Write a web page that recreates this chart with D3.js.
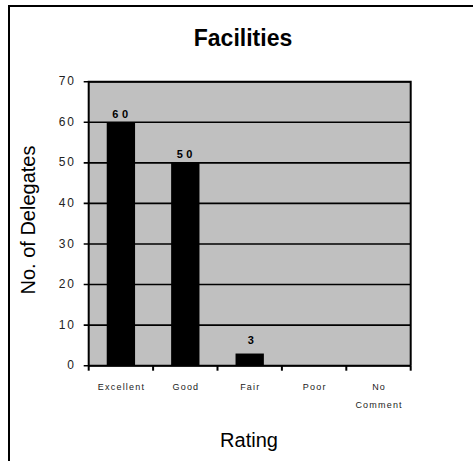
<!DOCTYPE html>
<html>
<head>
<meta charset="utf-8">
<script src="https://cdn.jsdelivr.net/npm/d3@7"></script>
<style>
  body { margin: 0; background: #fff; }
  svg { display: block; font-family: "Liberation Sans", Arial, sans-serif; }
</style>
</head>
<body>
<svg id="chart" width="473" height="461"></svg>
<script>
// chart data
const categories = ["Excellent", "Good", "Fair", "Poor", "No Comment"];
const delegates = [60, 50, 3, 0, 0];
const yTicks = [0, 10, 20, 30, 40, 50, 60, 70];

const svg = d3.select("#chart");

// plot area box
const plot = { left: 88.7, top: 81.7, right: 410.7, bottom: 365.7 };

// outer frame (runs off the right and bottom edges)
svg.append("rect")
    .attr("x", 9).attr("y", 6)
    .attr("width", 480).attr("height", 480)
    .attr("fill", "none")
    .attr("stroke", "#000")
    .attr("stroke-width", 2);

const x = d3.scaleBand()
    .domain(categories)
    .range([plot.left, plot.right])
    .padding(0);

const y = d3.scaleLinear()
    .domain([0, 70])
    .range([plot.bottom, plot.top]);

// gray background
svg.append("rect")
    .attr("x", plot.left).attr("y", plot.top)
    .attr("width", plot.right - plot.left)
    .attr("height", plot.bottom - plot.top)
    .attr("fill", "#c0c0c0");

// gridlines + y ticks
svg.append("g")
    .selectAll("line")
    .data(yTicks)
    .enter()
    .append("line")
    .attr("x1", plot.left - 5)
    .attr("x2", plot.right)
    .attr("y1", d => y(d))
    .attr("y2", d => y(d))
    .attr("stroke", "#000")
    .attr("stroke-width", 1.6);

// y tick labels
svg.append("g")
    .selectAll("text")
    .data(yTicks)
    .enter()
    .append("text")
    .attr("x", 76)
    .attr("y", d => y(d))
    .attr("dy", "0.3em")
    .attr("text-anchor", "end")
    .attr("font-size", 12)
    .attr("letter-spacing", 2)
    .attr("fill", "#222")
    .text(d => d);

// bars
const barW = x.bandwidth() * 0.44;
svg.append("g")
    .selectAll("rect")
    .data(delegates)
    .enter()
    .append("rect")
    .attr("x", (d, i) => x(categories[i]) + x.bandwidth() / 2 - barW / 2)
    .attr("y", d => y(d))
    .attr("width", barW)
    .attr("height", d => y(0) - y(d))
    .attr("fill", "#000");

// value labels (only bars that have a value)
svg.append("g")
    .selectAll("text")
    .data(delegates.map((d, i) => ({ v: d, c: categories[i] })).filter(d => d.v > 0))
    .enter()
    .append("text")
    .attr("x", d => x(d.c) + x.bandwidth() / 2 + 1)
    .attr("y", d => Math.min(y(d.v) - 4.5, y(0) - 21.5))
    .attr("text-anchor", "middle")
    .attr("font-size", 11)
    .attr("font-weight", "bold")
    .attr("letter-spacing", d => d.v >= 10 ? 3.5 : 0)
    .text(d => d.v);

// plot frame (left, top, right)
svg.append("path")
    .attr("d", `M${plot.left},${plot.bottom} V${plot.top} H${plot.right} V${plot.bottom}`)
    .attr("fill", "none")
    .attr("stroke", "#000")
    .attr("stroke-width", 2);

// x axis
const xTicks = categories.map(c => x(c)).concat([plot.right]);
svg.append("line")
    .attr("x1", plot.left).attr("x2", plot.right)
    .attr("y1", plot.bottom).attr("y2", plot.bottom)
    .attr("stroke", "#000").attr("stroke-width", 2);
svg.append("g")
    .selectAll("line")
    .data(xTicks)
    .enter()
    .append("line")
    .attr("x1", d => d).attr("x2", d => d)
    .attr("y1", plot.bottom).attr("y2", plot.bottom + 5)
    .attr("stroke", "#000").attr("stroke-width", 2);

// x labels, wrapped on spaces like the original
const xLab = svg.append("g")
    .selectAll("text")
    .data(categories)
    .enter()
    .append("text")
    .attr("text-anchor", "middle")
    .attr("font-size", 9)
    .attr("letter-spacing", 1.2)
    .attr("fill", "#222");
xLab.each(function (d) {
    const words = d.split(" ");
    const t = d3.select(this);
    words.forEach((w, k) => {
        t.append("tspan")
            .attr("x", x(d) + x.bandwidth() / 2 + 0.6)
            .attr("y", 390 + k * 18)
            .text(w);
    });
});

// title
svg.append("text")
    .attr("x", 243)
    .attr("y", 46)
    .attr("text-anchor", "middle")
    .attr("font-size", 23)
    .attr("font-weight", "bold")
    .text("Facilities");

// axis titles
svg.append("text")
    .attr("x", 249)
    .attr("y", 447)
    .attr("text-anchor", "middle")
    .attr("font-size", 20)
    .text("Rating");

svg.append("text")
    .attr("transform", "translate(35,220) rotate(-90)")
    .attr("text-anchor", "middle")
    .attr("font-size", 20)
    .text("No. of Delegates");
</script>
</body>
</html>
